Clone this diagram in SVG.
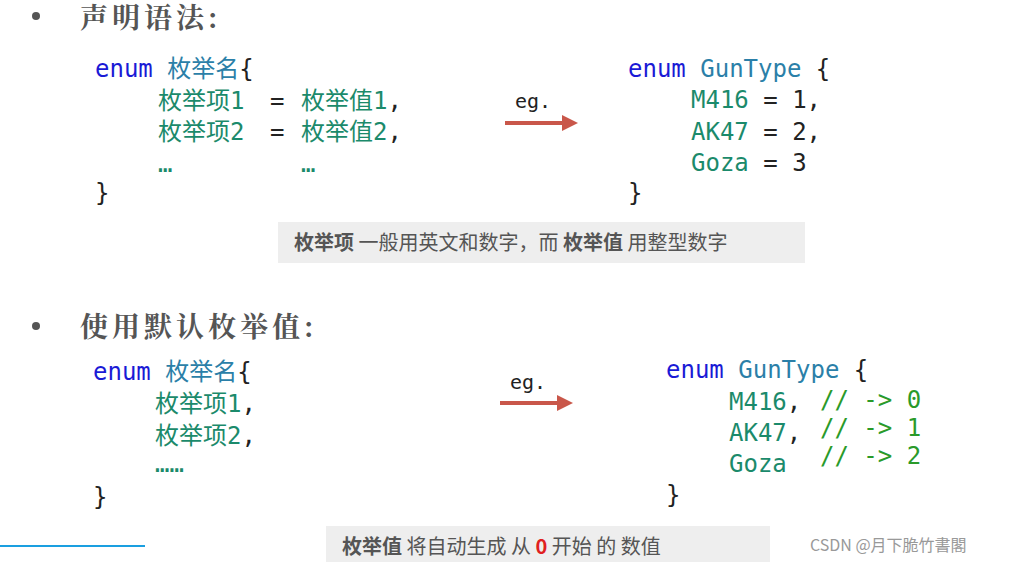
<svg xmlns="http://www.w3.org/2000/svg" width="1016" height="562" viewBox="0 0 1016 562">
<style>
.c{font-family:"DejaVu Sans Mono","Noto Sans CJK SC",monospace;font-size:24px}
.kw{fill:#1a1ad6}.ty{fill:#2b7fa8}.g{fill:#1b8a6b}.k{fill:#222}.cm{fill:#2a9a2a}
.h{font-family:"Noto Serif CJK SC","Noto Sans CJK SC",serif;font-size:28px;font-weight:bold;fill:#555;letter-spacing:4px}
.n{font-family:"Noto Sans CJK SC",sans-serif;font-size:20px;fill:#555}
.eg{font-family:"DejaVu Sans Mono",monospace;font-size:20px;fill:#222}
</style>
<defs><marker id="ah" markerWidth="4" markerHeight="4" refX="2" refY="2" orient="auto"><path d="M0,0L4,2L0,4Z" fill="#c9574a"/></marker></defs>
<rect width="1016" height="562" fill="#fff"/>
<circle cx="36" cy="16" r="4" fill="#555"/>
<text class="h" x="80" y="28">声明语法:</text>
<text class="c" x="95" y="77"><tspan class="kw">enum</tspan> <tspan class="ty">枚举名</tspan><tspan class="k">{</tspan></text>
<text class="c g" x="158" y="109">枚举项1</text><text class="c k" x="270" y="109">=</text><text class="c g" x="301" y="109">枚举值1<tspan class="k">,</tspan></text>
<text class="c g" x="158" y="140">枚举项2</text><text class="c k" x="270" y="140">=</text><text class="c g" x="301" y="140">枚举值2<tspan class="k">,</tspan></text>
<text class="c g" x="158" y="172" font-size="16">…</text>
<text class="c g" x="301" y="172" font-size="16">…</text>
<text class="c k" x="95" y="201">}</text>
<g id="connectors">
<line x1="505" y1="123" x2="570" y2="123" stroke="#c9574a" stroke-width="4" marker-end="url(#ah)"/>
<line x1="500" y1="403" x2="565" y2="403" stroke="#c9574a" stroke-width="4" marker-end="url(#ah)"/>
</g>
<text class="eg" x="515" y="108">eg.</text>
<text class="c" x="628" y="77"><tspan class="kw">enum</tspan> <tspan class="ty">GunType</tspan> <tspan class="k">{</tspan></text>
<text class="c g" x="691" y="108">M416 <tspan class="k">= 1,</tspan></text>
<text class="c g" x="691" y="140">AK47 <tspan class="k">= 2,</tspan></text>
<text class="c g" x="691" y="171">Goza <tspan class="k">= 3</tspan></text>
<text class="c k" x="628" y="201">}</text>
<rect x="278" y="222" width="527" height="41" fill="#eeeeee"/>
<text class="n" x="294" y="250"><tspan font-weight="bold">枚举项</tspan>  一般用英文和数字，而 <tspan font-weight="bold">枚举值</tspan> 用整型数字</text>
<circle cx="36" cy="326" r="4" fill="#555"/>
<text class="h" x="80" y="337">使用默认枚举值:</text>
<text class="c" x="93" y="380"><tspan class="kw">enum</tspan> <tspan class="ty">枚举名</tspan><tspan class="k">{</tspan></text>
<text class="c g" x="155" y="412">枚举项1<tspan class="k">,</tspan></text>
<text class="c g" x="155" y="444">枚举项2<tspan class="k">,</tspan></text>
<text class="c g" x="155" y="472" font-size="14">……</text>
<text class="c k" x="93" y="505">}</text>
<text class="eg" x="510" y="389">eg.</text>
<text class="c" x="666" y="378"><tspan class="kw">enum</tspan> <tspan class="ty">GunType</tspan> <tspan class="k">{</tspan></text>
<text class="c g" x="729" y="410">M416<tspan class="k">,</tspan></text>
<text class="c g" x="729" y="441">AK47<tspan class="k">,</tspan></text>
<text class="c g" x="729" y="472">Goza</text>
<text class="c cm" x="820" y="408" font-size="22">// -&gt; 0</text>
<text class="c cm" x="820" y="436" font-size="22">// -&gt; 1</text>
<text class="c cm" x="820" y="464" font-size="22">// -&gt; 2</text>
<text class="c k" x="666" y="503">}</text>
<rect x="326" y="526" width="444" height="36" fill="#eeeeee"/>
<text class="n" x="342" y="554"><tspan font-weight="bold">枚举值</tspan> 将自动生成 从 <tspan fill="#e02020" font-weight="bold">0</tspan> 开始 的 数值</text>
<line x1="0" y1="546" x2="145" y2="546" stroke="#1a9fe0" stroke-width="2"/>
<text x="810" y="551" font-family="Noto Sans CJK SC,sans-serif" font-size="16" fill="#999">CSDN @月下脆竹書閣</text>
</svg>
